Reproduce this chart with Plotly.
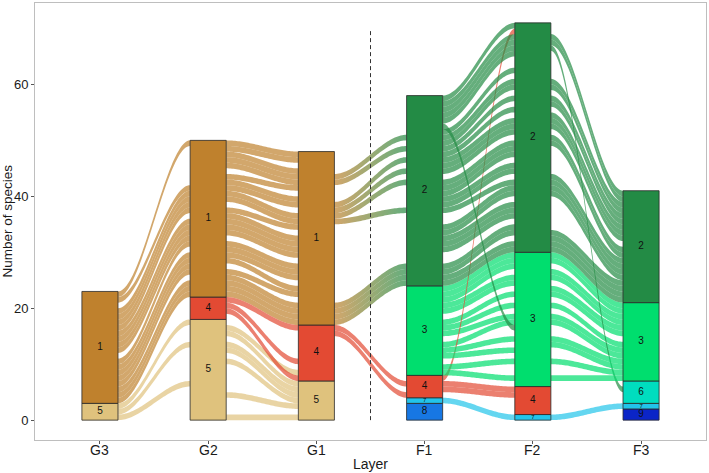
import numpy as np
import plotly.graph_objects as go

# ---------------- data ----------------
layers = ["G3", "G2", "G1", "F1", "F2", "F3"]

# One string per species: its module in each layer (order as in `layers`), "." = absent.
# Within a stratum, species are stacked from the top in list order.
species_paths = [
    # F1-3 / F2-3 / F3-3 upper block
    "...333", "...333", "...33.", "....33", "...333", "...33.", "...3..", "....33",
    "...333", ".....3", "....3.", "...333", "....3.", "...333", "...3..", "...333",
    ".....6",
    # F1-2 / F2-2 / F3-2 merged with G1-1 / G2-1 / G3-1
    "...22.", "...42.", "...222", "...222", "...226", "...22.", "...23.", "....2.",
    "....2.", "...22.", "....2.",
    "111...", ".11...", "..1...", ".11...",
    ".11222", "...222", "....2.", ".11222", "....22", "...22.", "....22",
    ".1....", ".11...", "..1...", ".11...",
    "111222", "...222", ".....2", "1.....", "..122.", "...2..", "....22",
    "111222", "...22.", "...22.", "....2.", "...22.", "...22.", "....22",
    "111222", "...2..", "...2..", "...222", "...222", "....2.", "...22.", "...22.",
    "...22.", "...2..", "...2..", "....2.",
    "11....", "111...", "..1...", ".11...", "111...", "111...", "111...", "..1...",
    "11....", "1.....", "111...", ".11...", "111...", "..1...", "111...", "11....",
    "111...", "..1...",
    ".1122.", "111222", "....22", "111222", "111222",
    # F2-3 lower block
    "....3.", "...333", "....33", "...33.", "....3.", "...3..", "...333", "....3.",
    "....3.", "...333", "....3.",
    # small F strata
    ".....6", ".....6", "...777", ".....9", ".....9", "...8..", "...8..", "...8..",
    # G2-4 / G2-5 / G1-4 / G1-5 block (with F1-4 / F2-4)
    "55....", ".4444.", "...44.", "....4.", "....4.", "....4.", "..44..",
    "..4...", "..4...", "..4...", "..4...", ".44...", "..4...", ".54...", ".44...",
    ".4....", ".55...", ".5....", "555...", ".55...", ".5....", ".55...", ".5....",
    ".5....", ".5....", "55....", ".5....", ".55...", ".5....", ".5....", ".5....",
    "..5...", ".55...",
]

colors_G = {"1": "#BF812D", "4": "#E34A33", "5": "#DFC27D"}
colors_F = {"2": "#238B45", "3": "#00DE6E", "4": "#E34A33", "6": "#00DDBF",
            "7": "#22C4EA", "8": "#1777E3", "9": "#0B25C7"}
n_G_layers = 3
divider_x = 3.5
divider_top = 70
y_ticks = [0, 20, 40, 60]
x_title = "Layer"
y_title = "Number of species"

# ---------------- layout computation ----------------
def color_of(li, m):
    return (colors_G if li < n_G_layers else colors_F)[m]

def rgba(hexc, a):
    h = hexc.lstrip("#")
    r, g, b = int(h[0:2], 16), int(h[2:4], 16), int(h[4:6], 16)
    return f"rgba({r},{g},{b},{a})"

pos = {}
strata = []
for li in range(len(layers)):
    members = {}
    for si, p in enumerate(species_paths):
        m = p[li]
        if m != ".":
            members.setdefault(m, []).append(si)
    y = 0
    for m in sorted(members, key=int, reverse=True):
        lst = members[m]
        y0, y1 = y, y + len(lst)
        strata.append((li, m, y0, y1))
        for k, si in enumerate(lst):
            pos[(si, li)] = (y1 - k - 1, y1 - k)
        y = y1

w = 1 / 3
alpha = 0.7
t = np.linspace(0, 1, 50)
s = t * t * (3 - 2 * t)

fig = go.Figure()

for li in range(len(layers) - 1):
    for si, p in enumerate(species_paths):
        if (si, li) in pos and (si, li + 1) in pos:
            a0, a1 = pos[(si, li)]
            b0, b1 = pos[(si, li + 1)]
            xs = (li + 1) + w / 2 + t * (1 - w)
            top = a1 + (b1 - a1) * s
            bot = a0 + (b0 - a0) * s
            xx = np.concatenate([xs, xs[::-1]])
            yy = np.concatenate([top, bot[::-1]])
            c_src = color_of(li, p[li])
            c_dst = color_of(li + 1, p[li + 1])
            kw = {}
            if li + 1 == n_G_layers and c_src != c_dst:
                kw["fillgradient"] = dict(type="horizontal",
                                          colorscale=[[0, rgba(c_src, alpha)],
                                                      [1, rgba(c_dst, alpha)]])
            fig.add_trace(go.Scatter(x=xx, y=yy, mode="none", fill="toself",
                                     fillcolor=rgba(c_src, alpha),
                                     hoverinfo="skip", showlegend=False, **kw))

for (li, m, y0, y1) in strata:
    x0, x1 = li + 1 - w / 2, li + 1 + w / 2
    fig.add_trace(go.Scatter(x=[x0, x1, x1, x0, x0], y=[y0, y0, y1, y1, y0],
                             mode="lines", fill="toself",
                             fillcolor=color_of(li, m),
                             line=dict(color="#2a2a2a", width=0.8),
                             hoverinfo="skip", showlegend=False))

fig.add_trace(go.Scatter(
    x=[li + 1 for (li, m, y0, y1) in strata],
    y=[(y0 + y1) / 2 for (li, m, y0, y1) in strata],
    text=[m for (li, m, y0, y1) in strata],
    mode="text",
    textfont=dict(size=[6 if (y1 - y0) < 2 else 10 for (li, m, y0, y1) in strata],
                  color="#111111", family="Liberation Sans, Arial, sans-serif"),
    hoverinfo="skip", showlegend=False))

fig.add_trace(go.Scatter(x=[divider_x, divider_x], y=[0, divider_top], mode="lines",
                         line=dict(color="#333333", width=1, dash="4px,3px"),
                         hoverinfo="skip", showlegend=False))

axis_common = dict(showgrid=False, zeroline=False, showline=True, mirror=True,
                   linecolor="#BEBEBE", linewidth=1, ticks="outside", ticklen=3,
                   tickcolor="#555555", tickwidth=1,
                   tickfont=dict(size=13, color="#1a1a1a"))

annotations = []
for li, name in enumerate(layers):
    annotations.append(dict(x=li + 1, y=0, xref="x", yref="paper", text=name,
                            showarrow=False, xanchor="center", yanchor="top",
                            yshift=0, font=dict(size=14, color="#1a1a1a")))
annotations.append(dict(x=0.5, y=0, xref="paper", yref="paper", text=x_title,
                        showarrow=False, xanchor="center", yanchor="top",
                        yshift=-14, font=dict(size=14, color="#1a1a1a")))
annotations.append(dict(x=0, y=0.5, xref="paper", yref="paper", text=y_title,
                        showarrow=False, xanchor="center", yanchor="middle",
                        textangle=-90, xshift=-28, font=dict(size=13.5, color="#1a1a1a")))

fig.update_layout(
    width=709, height=473,
    margin=dict(l=35, r=3, t=3, b=33),
    paper_bgcolor="white", plot_bgcolor="white",
    font=dict(family="Liberation Sans, Arial, sans-serif", color="#1a1a1a"),
    xaxis=dict(range=[0.4, 6.6], tickvals=list(range(1, len(layers) + 1)),
               showticklabels=False, automargin=False, **axis_common),
    yaxis=dict(range=[-3.55, 74.55], tickvals=y_ticks, automargin=False,
               ticklabelstandoff=0, **axis_common),
    annotations=annotations,
)

fig.write_html("out.html")
